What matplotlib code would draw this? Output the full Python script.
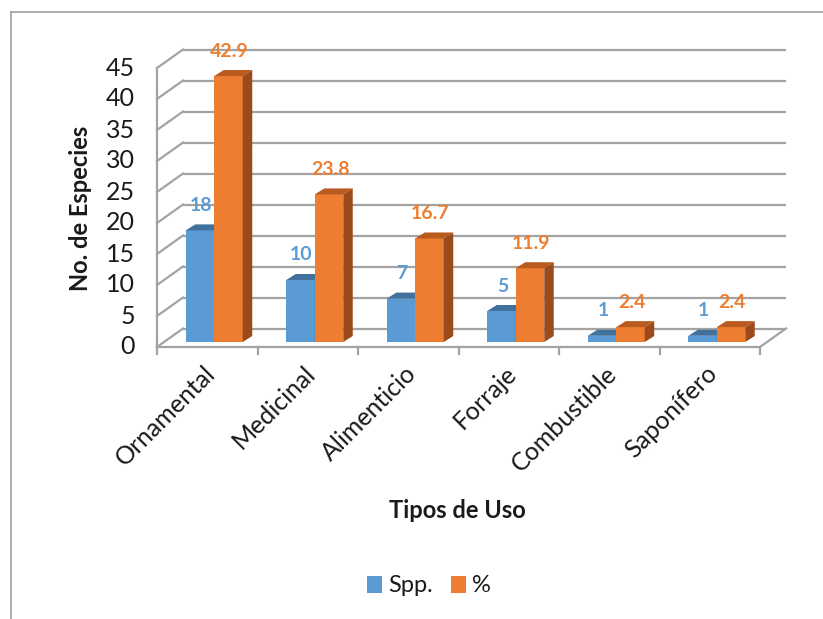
import matplotlib
matplotlib.use("Agg")
import matplotlib.pyplot as plt
from matplotlib.patches import Polygon, Rectangle
from matplotlib.lines import Line2D

categories = ["Ornamental", "Medicinal", "Alimenticio", "Forraje", "Combustible", "Saponífero"]
spp = [18, 10, 7, 5, 1, 1]
pct = [42.9, 23.8, 16.7, 11.9, 2.4, 2.4]
yticks = [0, 5, 10, 15, 20, 25, 30, 35, 40, 45]
series_names = ["Spp.", "%"]

plt.rcParams['font.family'] = ['Lato', 'DejaVu Sans']

W, H = 823, 619
fig = plt.figure(figsize=(W / 100, H / 100), dpi=100)

# front plane pixel geometry
X0, X1 = 157, 760      # x of -0.5 and 5.5
Y0, Y45 = 347, 68      # y of 0 and 45
ax = fig.add_axes([X0 / W, (H - Y0) / H, (X1 - X0) / W, (Y0 - Y45) / H])
ax.set_xlim(-0.5, len(categories) - 0.5)
ax.set_ylim(0, 45)
ax.axis('off')

PX = (X1 - X0) / len(categories)   # px per x unit
PY = (Y0 - Y45) / 45.0             # px per y unit
DX = 26 / PX                       # depth offset (data units)
DY = 18.5 / PY

grid_c = '#A3A3A3'
lw = 1.6
n = len(categories)
xl, xr = -0.5, n - 0.5
txt_c = '#1a1a1a'

# back wall gridlines and left wall diagonals
for v in yticks:
    ax.add_line(Line2D([xl + DX, xr + DX], [v + DY, v + DY], color=grid_c, lw=lw,
                       clip_on=False, zorder=1, solid_capstyle='butt'))
    ax.add_line(Line2D([xl, xl + DX], [v, v + DY], color=grid_c, lw=lw,
                       clip_on=False, zorder=1))
# left front axis line
ax.add_line(Line2D([xl, xl], [0, 45], color=grid_c, lw=lw, clip_on=False, zorder=1))
# floor front edge and right edge
ax.add_line(Line2D([xl, xr], [0, 0], color=grid_c, lw=lw, clip_on=False, zorder=1))
ax.add_line(Line2D([xr, xr + DX], [0, DY], color=grid_c, lw=lw, clip_on=False, zorder=1))
# category tick marks
for i in range(n + 1):
    xt = -0.5 + i
    ax.add_line(Line2D([xt, xt], [0, -7 / PY], color=grid_c, lw=lw, clip_on=False, zorder=1))

# y tick labels
for v in yticks:
    ax.text(xl - 22 / PX, v, str(v), ha='right', va='center', fontsize=18,
            color=txt_c, clip_on=False)

# bars
bw = 28.5 / PX
shift = 7 / PX
base = 5 / PY
ddx = 9.5 / PX
ddy = 6 / PY
cols = [('#5B9BD5', '#41719C', '#3C6A95'), ('#ED7D31', '#B95A1F', '#9A4A1B')]
xs = list(range(n))
for k, vals in enumerate([spp, pct]):
    front, top, side = cols[k]
    lefts = [x + shift - bw + k * bw for x in xs]
    ax.bar(lefts, vals, width=bw, bottom=base, align='edge', color=front,
           zorder=3 + k * 0.5, clip_on=False, linewidth=0)
    for x0, v in zip(lefts, vals):
        t = base + v
        x1 = x0 + bw
        ax.add_patch(Polygon([(x0, t), (x1, t), (x1 + ddx, t + ddy), (x0 + ddx, t + ddy)],
                             closed=True, facecolor=top, edgecolor='none',
                             zorder=3 + k * 0.5, clip_on=False))
        ax.add_patch(Polygon([(x1, base), (x1, t), (x1 + ddx, t + ddy), (x1 + ddx, base + ddy)],
                             closed=True, facecolor=side, edgecolor='none',
                             zorder=3 + k * 0.5, clip_on=False))
        ax.text(x0 + bw / 2 + 1 / PX, t + 25 / PY, str(v), ha='center', va='center',
                fontsize=14, fontweight='bold', color=front, zorder=6, clip_on=False)

# x tick labels
for x, c in zip(xs, categories):
    ax.text(x + 4 / PX, -23 / PY, c, rotation=45, ha='right', va='center',
            rotation_mode='anchor', fontsize=18, color=txt_c, clip_on=False)

# axis titles
fig.text(80 / W, 1 - 208 / H, "No. de Especies", rotation=90, ha='center', va='center',
         fontsize=17, fontweight='bold', color=txt_c)
fig.text(457 / W, 1 - 510 / H, "Tipos de Uso", ha='center', va='center',
         fontsize=17, fontweight='bold', color=txt_c)

# legend
for (xsq, xt, name, col) in [(367, 388, series_names[0], '#5B9BD5'),
                             (451, 472, series_names[1], '#ED7D31')]:
    fig.patches.append(Rectangle((xsq / W, 1 - 593 / H), 15 / W, 17 / H,
                                 transform=fig.transFigure, facecolor=col, edgecolor='none'))
    fig.text(xt / W, 1 - 585 / H, name, ha='left', va='center', fontsize=17, color=txt_c)

# chart border (top and left visible)
fig.add_artist(Line2D([11 / W, 1], [1 - 12 / H, 1 - 12 / H], transform=fig.transFigure,
                      color='#A0A0A0', lw=1.2))
fig.add_artist(Line2D([11 / W, 11 / W], [0, 1 - 12 / H], transform=fig.transFigure,
                      color='#A0A0A0', lw=1.2))

fig.savefig("out.png", dpi=100, facecolor='white')
